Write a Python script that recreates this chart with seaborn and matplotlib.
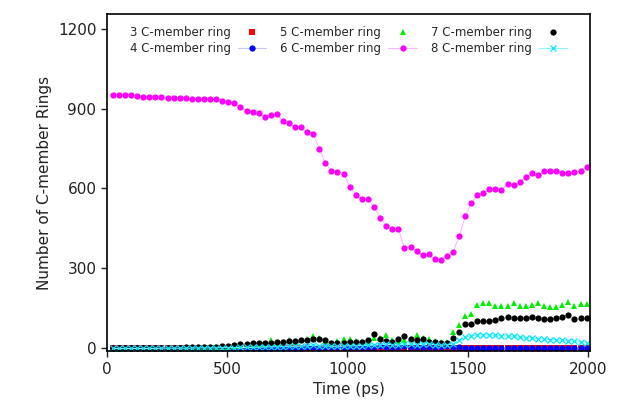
import numpy as np
import pandas as pd
import matplotlib
matplotlib.use("Agg")
import matplotlib.pyplot as plt
import seaborn as sns

# time axis (ps), one frame about every 25 ps
time_ps = np.linspace(25, 1995, 79).round()

ring3 = [0] * 38 + [2, 2, 2, 2] + [1] * 16 + [3] * 21

ring4 = ([0] * 19
         + [0, 0, 1, 1, 1, 1, 2, 2, 2, 3, 3, 3, 3, 4, 4, 3, 4, 4, 5, 5, 5]
         + [6, 5, 7, 6, 8, 5, 7, 6, 8, 5, 6, 7, 6, 5, 7, 8, 6, 4, 2]
         + [1, 1, 1, 0, 1, 0, 1, 1, 0, 1, 1, 0, 1, 0, 1, 1, 0, 1, 0, 0])

ring5 = ([0, 0, 0, 0, 1, 1, 1, 1, 1, 2, 2, 2, 2, 3, 3, 4, 4, 5, 5]
         + [7, 9, 11, 12, 14, 16, 18, 31, 22, 26, 30, 26, 30, 36, 45, 40, 28, 22, 28, 34]
         + [34, 28, 26, 24, 40, 38, 50, 30, 28, 32, 36, 50, 40, 34, 28, 26, 24, 60, 87, 121]
         + [131, 164, 169, 169, 159, 159, 159, 169, 159, 159, 164, 169, 159, 154, 154, 164,
            174, 159, 166, 166])

ring6 = [950, 950, 950, 950, 946, 944, 944, 944, 942, 941, 941, 940, 939, 937, 936, 936,
         935, 934, 927, 926, 919, 904, 892, 887, 885, 869, 874, 881, 852, 844, 830, 831,
         812, 804, 749, 694, 667, 662, 656, 606, 577, 559, 559, 531, 490, 460, 449, 449,
         376, 382, 364, 351, 354, 336, 332, 345, 361, 420, 495, 544, 574, 582, 598, 599,
         594, 617, 612, 624, 644, 657, 651, 664, 665, 665, 657, 659, 662, 667, 681]

ring7 = ([1, 1, 1, 1, 2, 2, 2, 2, 2, 3, 3, 3, 4, 4, 5, 5, 6, 7, 8]
         + [10, 14, 16, 16, 20, 21, 19, 21, 25, 25, 28, 28, 31, 31, 37, 37, 31, 22, 20, 22]
         + [26, 26, 26, 30, 56, 36, 27, 26, 34, 47, 34, 30, 36, 26, 23, 22, 22, 41, 63, 90]
         + [91, 103, 103, 104, 106, 114, 119, 114, 114, 114, 119, 114, 109, 109, 114, 119,
            124, 109, 114, 116])

ring8 = ([0, 0, 0, 0, 0, 0, 0, 0, 1, 1, 1, 1, 1, 1, 2, 2, 2, 2, 3]
         + [3, 3, 4, 4, 4, 5, 5, 6, 6, 7, 8, 8, 9, 10, 12, 10, 9, 8, 8, 9, 10]
         + [10, 11, 12, 12, 14, 18, 14, 12, 16, 15, 14, 17, 18, 14, 12, 14, 16, 30, 42]
         + [48, 50, 52, 50, 49, 48, 46, 45, 42, 40, 39, 37, 35, 33, 31, 30, 29, 27, 24, 20])

labels = ["3 C-member ring", "4 C-member ring", "5 C-member ring",
          "6 C-member ring", "7 C-member ring", "8 C-member ring"]
series = [ring3, ring4, ring5, ring6, ring7, ring8]

# marker colour, connecting line colour (None = no line), marker
styles = [
    ("#ff0000", None, "s"),
    ("#0000ff", "#c8c8ff", "o"),
    ("#00ee00", None, "^"),
    ("#ff00ff", "#ffb8ff", "o"),
    ("#000000", None, "o"),
    ("#00e8ff", "#90f4ff", "x"),
]

sns.set_theme(style="ticks")
plt.rcParams['font.family'] = ['DejaVu Sans']

fig = plt.figure(figsize=(6.18, 4.16), dpi=100)
ax = fig.add_axes([0.173, 0.156, 0.782, 0.81])

for lab, vals, (mc, lc, mk) in zip(labels, series, styles):
    df = pd.DataFrame({"Time": time_ps, "Count": vals})
    sns.lineplot(data=df, x="Time", y="Count", ax=ax, label=lab,
                 color=lc if lc else mc, linestyle="-" if lc else "",
                 linewidth=0.8, marker=mk, markersize=4.5,
                 markerfacecolor=mc, markeredgecolor=mc,
                 markeredgewidth=0.9 if mk == "x" else 0)

ax.set_xlim(0, 2010)
ax.set_ylim(-10, 1254)
ax.set_xticks([0, 500, 1000, 1500, 2000])
ax.set_yticks([0, 300, 600, 900, 1200])
ax.tick_params(axis="both", labelsize=11, direction="out", length=4, width=1, colors="#222222")
for sp in ax.spines.values():
    sp.set_visible(True)
    sp.set_linewidth(1.2)
    sp.set_color("black")

ax.set_xlabel("Time (ps)", fontsize=11, color="#222222")
ax.set_ylabel("Number of C-member Rings", fontsize=11, color="#222222")

ax.legend(ncol=3, loc="upper center", frameon=False, markerfirst=False,
          fontsize=8.5, handlelength=2.4, columnspacing=1.2, handletextpad=0.6,
          labelspacing=0.3, borderaxespad=0.6)

fig.savefig("out.png", dpi=100)
